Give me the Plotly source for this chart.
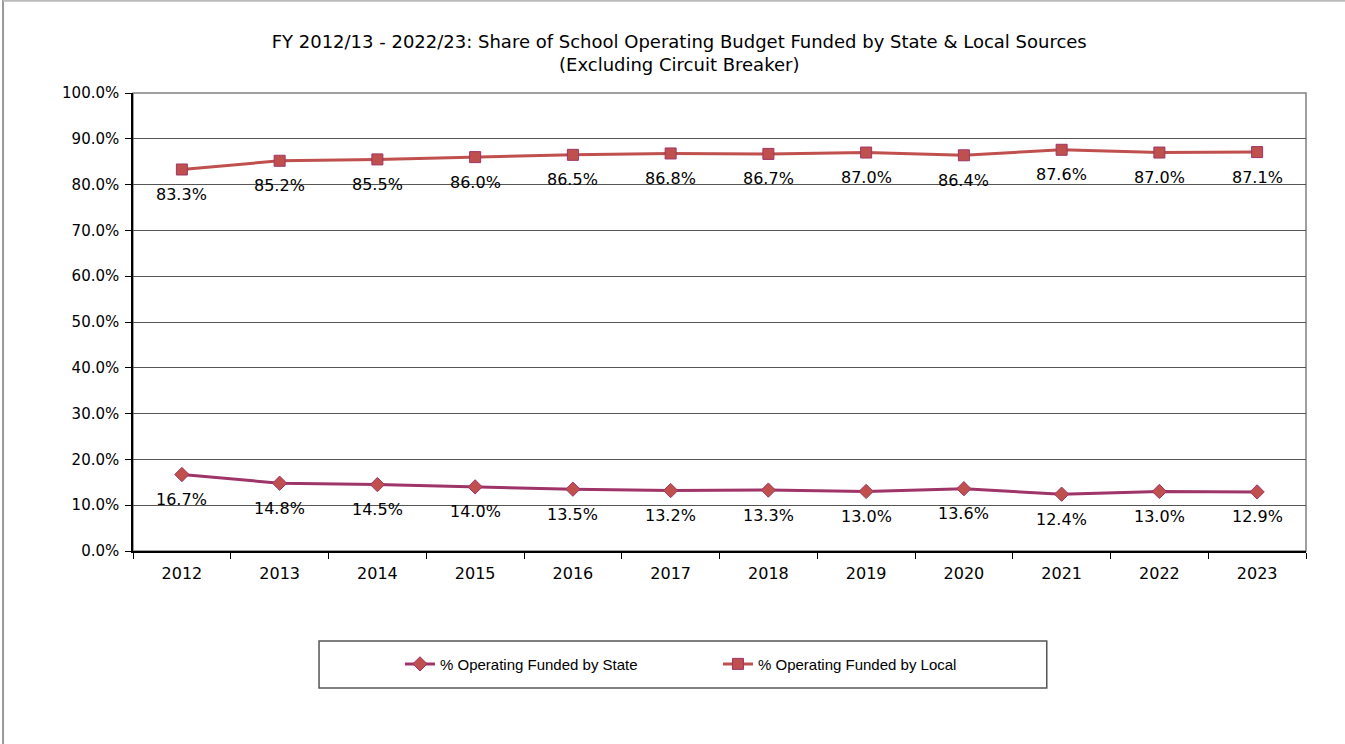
import plotly.graph_objects as go

years = ["2012", "2013", "2014", "2015", "2016", "2017", "2018", "2019", "2020", "2021", "2022", "2023"]
state_pct = [16.7, 14.8, 14.5, 14.0, 13.5, 13.2, 13.3, 13.0, 13.6, 12.4, 13.0, 12.9]
local_pct = [83.3, 85.2, 85.5, 86.0, 86.5, 86.8, 86.7, 87.0, 86.4, 87.6, 87.0, 87.1]

FONT = "DejaVu Sans"

fig = go.Figure()
fig.add_trace(go.Scatter(
    x=years, y=state_pct, name="% Operating Funded by State",
    mode="lines+markers",
    line=dict(color="#9E3468", width=3),
    marker=dict(symbol="diamond", size=11, color="#C0504D", line=dict(color="#9E3468", width=1)),
))
fig.add_trace(go.Scatter(
    x=years, y=local_pct, name="% Operating Funded by Local",
    mode="lines+markers",
    line=dict(color="#C0504D", width=3),
    marker=dict(symbol="square", size=11, color="#C0504D", line=dict(color="#9E3468", width=1)),
))

# data labels below each point (x given as category index)
for series in (state_pct, local_pct):
    for i, v in enumerate(series):
        fig.add_annotation(x=i, y=v, text=f"{v:.1f}%", showarrow=False,
                           yshift=-25, font=dict(family=FONT, size=16, color="#000"))

fig.update_layout(
    width=1345, height=744,
    margin=dict(l=133, r=39, t=93, b=193),
    paper_bgcolor="white", plot_bgcolor="white",
    font=dict(family=FONT, size=16, color="#000"),
    title=dict(
        text="FY 2012/13 - 2022/23: Share of School Operating Budget Funded by State & Local Sources<br>(Excluding Circuit Breaker)",
        x=0.505, xanchor="center", y=0.936, yanchor="middle",
        font=dict(family=FONT, size=18, color="#000"),
    ),
    showlegend=True,
    legend=dict(
        orientation="h", x=0.2276, xanchor="left", y=-0.247, yanchor="middle",
        font=dict(family="Liberation Sans", size=15, color="#000"),
        itemwidth=30, entrywidth=273, bgcolor="rgba(0,0,0,0)",
    ),
    shapes=[
        # plot area frame
        dict(type="rect", xref="paper", yref="paper", x0=0, x1=1, y0=0, y1=1,
             line=dict(color="#808080", width=1.5), layer="below"),
        # legend box
        dict(type="rect", xref="paper", yref="paper", x0=0.1586, x1=0.779, y0=-0.299, y1=-0.1965,
             line=dict(color="#555", width=1.5)),
        # outer chart border
        dict(type="line", xref="paper", yref="paper", x0=-0.1108, x1=-0.1108, y0=-0.43, y1=1.203,
             line=dict(color="#999", width=2)),
        dict(type="line", xref="paper", yref="paper", x0=-0.1108, x1=1.05, y0=1.2015, y1=1.2015,
             line=dict(color="#bbb", width=2)),
    ],
)

fig.update_xaxes(
    type="category", range=[-0.5, len(years) - 0.5], tickson="boundaries",
    ticks="outside", ticklen=6, tickangle=0, ticklabelstandoff=7,
    tickcolor="#000", showline=True, linecolor="#000", linewidth=1.5,
    showgrid=False, tickfont=dict(family=FONT, size=16),
)
fig.update_yaxes(
    range=[0, 100], dtick=10, tickformat=".1f", ticksuffix="%",
    ticks="outside", ticklen=6, tickcolor="#000", ticklabelstandoff=3,
    showline=True, linecolor="#000", linewidth=1.5,
    showgrid=True, gridcolor="#555", gridwidth=1, zeroline=False,
    tickfont=dict(family=FONT, size=15),
)

fig.write_html("out.html", config={"displayModeBar": False},
               post_script="document.body.style.margin='0';")
